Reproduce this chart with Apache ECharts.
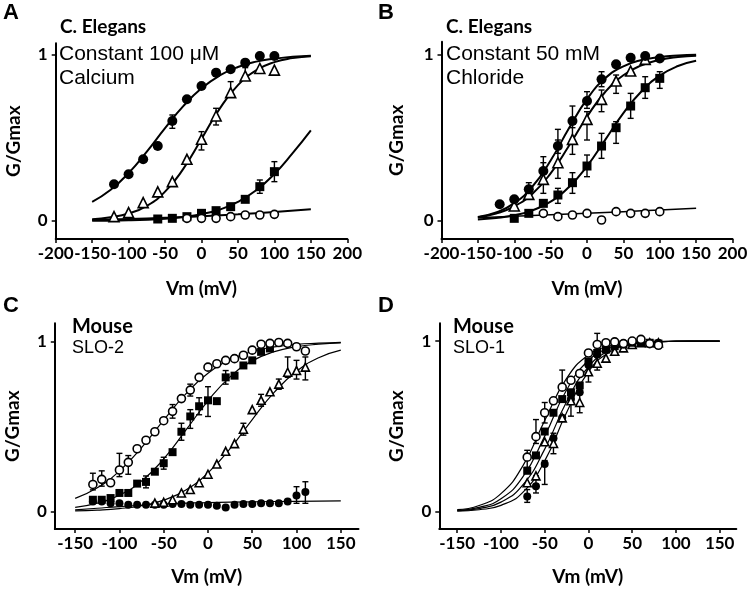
<!DOCTYPE html>
<html>
<head>
<meta charset="utf-8">
<script src="https://cdn.jsdelivr.net/npm/echarts@6/dist/echarts.min.js"></script>
<style>
  html, body { margin: 0; padding: 0; background: #fff; }
  #chart { width: 750px; height: 589px; }
</style>
</head>
<body>
<div id="chart"></div>
<script>
// ---- A: C. elegans, constant 100 uM calcium ----
const aCircle = [[-120,0.22],[-100,0.28],[-80,0.37],[-60,0.45],[-40,0.60],[-20,0.73],[0,0.81],[20,0.89],[40,0.91],[60,0.95],[80,0.99],[100,0.99]];
const aTri = [[-120,0.026],[-100,0.05],[-80,0.11],[-60,0.175],[-40,0.236],[-20,0.37],[0,0.49],[20,0.63],[40,0.77],[60,0.87],[80,0.915],[100,0.905]];
const aSquare = [[-60,0.012],[-40,0.016],[-20,0.026],[0,0.046],[20,0.062],[40,0.086],[60,0.13],[80,0.206],[100,0.296]];
const aOpen = [[-20,0.016],[0,0.016],[20,0.016],[40,0.026],[60,0.036],[80,0.036],[100,0.04]];
const aErr = [[-60,0.43,0.47],[-40,0.556,0.636],[0,0.426,0.536],[20,0.576,0.676],[40,0.746,0.836],[60,0.85,0.92],[80,0.166,0.246],[100,0.236,0.356]];
const aFitCircle = [[-150,0.115],[-125,0.186],[-100,0.287],[-75,0.416],[-50,0.557],[-25,0.689],[0,0.796],[25,0.873],[50,0.924],[75,0.956],[100,0.974],[125,0.985],[150,0.992]];
const aFitTri = [[-150,0.010],[-125,0.022],[-100,0.045],[-75,0.091],[-50,0.176],[-25,0.313],[0,0.492],[25,0.674],[50,0.815],[75,0.904],[100,0.953],[125,0.977],[150,0.989]];
const aFitSquare = [[-150,0.0015],[-100,0.0046],[-50,0.014],[-25,0.024],[0,0.041],[25,0.069],[50,0.115],[75,0.184],[100,0.282],[125,0.407],[150,0.544]];
const aFitOpen = [[-150,0.006],[-100,0.012],[-50,0.019],[0,0.028],[50,0.040],[100,0.054],[150,0.07]];

// ---- B: C. elegans, constant 50 mM chloride ----
const bCircle = [[-120,0.10],[-100,0.13],[-80,0.19],[-60,0.30],[-40,0.45],[-20,0.60],[0,0.72],[20,0.85],[40,0.94],[60,0.98],[80,0.99],[100,0.975]];
const bTri = [[-100,0.09],[-80,0.16],[-60,0.25],[-40,0.35],[-20,0.49],[0,0.61],[20,0.73],[40,0.84],[60,0.90],[80,0.97]];
const bSquare = [[-100,0.016],[-80,0.046],[-60,0.106],[-40,0.156],[-20,0.23],[0,0.33],[20,0.45],[40,0.56],[60,0.69],[80,0.80],[100,0.856]];
const bOpen = [[-60,0.046],[-40,0.026],[-20,0.036],[0,0.046],[20,0.006],[40,0.056],[60,0.046],[80,0.046],[100,0.056]];
const bErr = [[-80,0.15,0.23],[-60,0.25,0.35],[-40,0.406,0.55],[-20,0.56,0.69],[0,0.676,0.776],[20,0.806,0.896],
  [-60,0.166,0.386],[-40,0.256,0.486],[-20,0.40,0.58],[0,0.486,0.656],[20,0.656,0.786],[40,0.766,0.876],
  [-40,0.106,0.196],[-20,0.166,0.29],[0,0.266,0.396],[20,0.376,0.526],[40,0.466,0.596],[60,0.616,0.766],[80,0.736,0.866],[100,0.796,0.896]];
const bFitCircle = [[-150,0.0245],[-125,0.052],[-100,0.107],[-75,0.207],[-50,0.363],[-25,0.555],[0,0.731],[25,0.856],[50,0.928],[75,0.966],[100,0.984],[125,0.993],[150,0.997]];
const bFitTri = [[-150,0.0225],[-125,0.045],[-100,0.088],[-75,0.164],[-50,0.286],[-25,0.450],[0,0.626],[25,0.774],[50,0.875],[75,0.934],[100,0.967],[125,0.984],[150,0.992]];
const bFitSquare = [[-150,0.0094],[-125,0.018],[-100,0.034],[-75,0.064],[-50,0.116],[-25,0.203],[0,0.329],[25,0.487],[50,0.647],[75,0.779],[100,0.872],[125,0.930],[150,0.962]];
const bFitOpen = [[-150,0.02],[-100,0.028],[-50,0.037],[0,0.046],[50,0.056],[100,0.066],[150,0.077]];

// ---- C: mouse SLO-2 ----
const cOpen = [[-130,0.16],[-120,0.19],[-110,0.17],[-100,0.245],[-90,0.29],[-80,0.37],[-70,0.42],[-60,0.47],[-50,0.535],[-40,0.59],[-30,0.665],[-20,0.715],[-10,0.79],[0,0.85],[10,0.87],[20,0.89],[30,0.90],[40,0.92],[50,0.95],[60,0.985],[70,0.99],[80,0.995],[90,0.99],[100,0.97],[110,0.945]];
const cSquare = [[-130,0.07],[-120,0.07],[-110,0.08],[-100,0.11],[-90,0.11],[-80,0.165],[-70,0.175],[-60,0.235],[-50,0.285],[-40,0.35],[-30,0.47],[-20,0.56],[-10,0.62],[0,0.655],[10,0.65],[20,0.79],[30,0.80],[40,0.86],[50,0.89],[60,0.94],[70,0.96]];
const cTri = [[-60,0.05],[-50,0.055],[-40,0.07],[-30,0.11],[-20,0.13],[-10,0.17],[0,0.22],[10,0.28],[20,0.355],[30,0.40],[40,0.485],[50,0.60],[60,0.655],[70,0.705],[80,0.75],[90,0.82],[100,0.83],[110,0.85]];
const cFilled = [[-130,0.06],[-120,0.06],[-110,0.05],[-100,0.05],[-90,0.04],[-80,0.04],[-70,0.04],[-60,0.04],[-50,0.04],[-40,0.045],[-30,0.045],[-20,0.04],[-10,0.04],[0,0.04],[10,0.035],[20,0.025],[30,0.04],[40,0.045],[50,0.045],[60,0.05],[70,0.05],[80,0.05],[90,0.06],[100,0.095],[110,0.115]];
const cErr = [[-130,0.128,0.226],[-120,0.15,0.24],[-100,0.206,0.343],[-90,0.22,0.33],[-40,0.55,0.63],[-20,0.68,0.75],
  [-70,0.14,0.21],[-50,0.25,0.32],[-30,0.42,0.52],[-20,0.49,0.60],[-10,0.57,0.67],[0,0.56,0.735],[20,0.75,0.83],
  [40,0.45,0.52],[60,0.62,0.69],[80,0.72,0.78],[90,0.79,0.91],[100,0.78,0.89],[110,0.775,0.91],
  [100,0.049,0.147],[110,0.049,0.176]];
const cFitOpen = [[-150,0.078],[-125,0.140],[-100,0.239],[-75,0.377],[-50,0.539],[-25,0.693],[0,0.814],[25,0.894],[50,0.942],[75,0.969],[100,0.984],[125,0.991],[150,0.996]];
const cFitSquare = [[-150,0.025],[-125,0.050],[-100,0.097],[-75,0.180],[-50,0.310],[-25,0.479],[0,0.652],[25,0.793],[50,0.887],[75,0.941],[100,0.970],[125,0.985],[150,0.993]];
const cFitTri = [[-150,0.0045],[-125,0.009],[-100,0.018],[-75,0.035],[-50,0.068],[-25,0.128],[0,0.228],[25,0.371],[50,0.542],[75,0.703],[100,0.826],[125,0.905],[150,0.950]];
const cFitFlat = [[-150,0.01],[-125,0.02],[-100,0.03],[-50,0.045],[0,0.053],[50,0.058],[100,0.061],[150,0.063]];

// ---- D: mouse SLO-1 ----
const dOpen = [[-70,0.32],[-60,0.44],[-50,0.58],[-40,0.65],[-30,0.73],[-20,0.77],[-10,0.81],[0,0.93],[10,0.98],[20,0.99],[30,0.995],[40,0.985],[50,1.0],[60,1.01],[70,0.985],[80,0.975]];
const dSquare = [[-70,0.24],[-60,0.33],[-50,0.47],[-40,0.58],[-30,0.66],[-20,0.70],[-10,0.74],[0,0.88],[10,0.93],[20,0.95],[30,0.97],[40,0.98],[50,0.99],[60,0.99],[70,0.99],[80,0.985]];
const dTri = [[-70,0.17],[-60,0.21],[-50,0.41],[-40,0.40],[-30,0.55],[-20,0.65],[-10,0.64],[0,0.82],[10,0.87],[20,0.90],[30,0.94],[40,0.96],[50,0.98],[60,0.99],[70,0.99],[80,0.99]];
const dFilled = [[-70,0.09],[-60,0.15],[-50,0.28],[-40,0.43],[-30,0.55],[-20,0.66],[-10,0.70],[0,0.86],[10,0.92],[20,0.95],[30,0.97],[40,0.98],[50,0.99],[60,0.99],[70,0.99],[80,0.99]];
const dErr = [[-70,0.26,0.36],[-60,0.40,0.54],[-50,0.52,0.64],[-30,0.73,0.83],[10,0.96,1.045],
  [-60,0.11,0.21],[-50,0.16,0.30],[-40,0.34,0.46],[-20,0.56,0.68],[-10,0.58,0.70],[0,0.76,0.88],[10,0.83,0.92],[-70,0.055,0.13]];
const dFitOpen = [[-150,0.012],[-125,0.0365],[-100,0.106],[-75,0.269],[-50,0.534],[-25,0.781],[0,0.918],[25,0.972],[50,0.991],[75,0.997],[100,0.999],[125,1.0],[150,1.0]];
const dFitSquare = [[-150,0.0084],[-125,0.0256],[-100,0.076],[-75,0.204],[-50,0.443],[-25,0.713],[0,0.886],[25,0.960],[50,0.987],[75,0.996],[100,0.999],[125,1.0],[150,1.0]];
const dFitTri = [[-150,0.006],[-125,0.0188],[-100,0.0565],[-75,0.157],[-50,0.367],[-25,0.644],[0,0.849],[25,0.946],[50,0.982],[75,0.994],[100,0.998],[125,0.9995],[150,1.0]];
const dFitFilled = [[-150,0.0036],[-125,0.0118],[-100,0.0377],[-75,0.114],[-50,0.298],[-25,0.582],[0,0.821],[25,0.938],[50,0.980],[75,0.994],[100,0.998],[125,0.9995],[150,1.0]];

const ticksAB = [-200,-150,-100,-50,0,50,100,150,200];
const ticksCD = [-150,-100,-50,0,50,100,150];
const ticksY = [0, 1];

const boldFont = 'Lato';
const plainFont = 'Liberation Sans';

const myChart = echarts.init(document.getElementById('chart'), null, { renderer: 'canvas' });

const grids = [
  { left: 55.7, top: 43.3, width: 291.6, height: 195.7 },
  { left: 441.5, top: 41.7, width: 291, height: 197.3 },
  { left: 54.8, top: 323.3, width: 303.7, height: 205.7 },
  { left: 439.3, top: 323.3, width: 297, height: 205.7 }
];
const xRanges = [[-200, 200], [-200, 200], [-173, 170], [-170.5, 169]];
const yRanges = [[-0.108, 1.066], [-0.108, 1.076], [-0.102, 1.108], [-0.101, 1.104]];
const xTicks = [ticksAB, ticksAB, ticksCD, ticksCD];
const xNameGap = [40, 40, 38, 38];
const yNameGap = [32, 35, 32, 33];

const makeX = (i) => ({
  type: 'value', gridIndex: i, min: xRanges[i][0], max: xRanges[i][1],
  splitLine: { show: false },
  axisLine: { onZero: false, lineStyle: { color: '#000', width: 2 } },
  axisTick: { length: 4, lineStyle: { color: '#000', width: 1.5 }, customValues: xTicks[i] },
  axisLabel: { customValues: xTicks[i], color: '#000', fontFamily: boldFont, fontWeight: 'bold', fontSize: 17, margin: 6 },
  name: 'Vm (mV)', nameLocation: 'middle', nameGap: xNameGap[i],
  nameTextStyle: { color: '#000', fontFamily: boldFont, fontWeight: 'bold', fontSize: 19 }
});
const makeY = (i) => ({
  type: 'value', gridIndex: i, min: yRanges[i][0], max: yRanges[i][1],
  splitLine: { show: false },
  axisLine: { onZero: false, lineStyle: { color: '#000', width: 2 } },
  axisTick: { length: 4, lineStyle: { color: '#000', width: 1.5 }, customValues: ticksY },
  axisLabel: { customValues: ticksY, color: '#000', fontFamily: boldFont, fontWeight: 'bold', fontSize: 17, margin: 8 },
  name: 'G/Gmax', nameLocation: 'middle', nameGap: yNameGap[i],
  nameTextStyle: { color: '#000', fontFamily: boldFont, fontWeight: 'bold', fontSize: 19 }
});

// fitted curve
const fit = (data, i, w) => ({
  type: 'line', xAxisIndex: i, yAxisIndex: i, data: data,
  smooth: true, showSymbol: false, silent: true, z: 2,
  lineStyle: { color: '#000', width: w }
});
// data points; shape: circle / triangle / rect, filled or open
const pts = (data, i, shape, filled, size) => ({
  type: 'scatter', xAxisIndex: i, yAxisIndex: i, data: data,
  symbol: shape, symbolSize: size, z: 4,
  itemStyle: { color: filled ? '#000' : '#fff', opacity: 1, borderColor: '#000', borderWidth: filled ? 0 : 1.6 }
});
// error bars with caps
const errBars = (data, i) => ({
  type: 'custom', xAxisIndex: i, yAxisIndex: i, data: data, z: 3, silent: true,
  renderItem: (params, api) => {
    const lo = api.coord([api.value(0), api.value(1)]);
    const hi = api.coord([api.value(0), api.value(2)]);
    const w = 3;
    const st = { stroke: '#000', lineWidth: 1.4 };
    return {
      type: 'group',
      children: [
        { type: 'line', shape: { x1: lo[0], y1: lo[1], x2: hi[0], y2: hi[1] }, style: st },
        { type: 'line', shape: { x1: lo[0] - w, y1: lo[1], x2: lo[0] + w, y2: lo[1] }, style: st },
        { type: 'line', shape: { x1: hi[0] - w, y1: hi[1], x2: hi[0] + w, y2: hi[1] }, style: st }
      ]
    };
  }
});

const txt = (s, x, y, font, size, weight) => ({
  type: 'text', x: x, y: y, silent: true,
  style: { text: s, fill: '#000', fontFamily: font, fontSize: size, fontWeight: weight, verticalAlign: 'middle' }
});

myChart.setOption({
  animation: false,
  backgroundColor: '#fff',
  grid: grids.map((g) => Object.assign({ containLabel: false, outerBoundsMode: 'none' }, g)),
  xAxis: [0, 1, 2, 3].map(makeX),
  yAxis: [0, 1, 2, 3].map(makeY),
  graphic: [
    txt('A', 3, 13, plainFont, 22, 'bold'),
    txt('B', 378, 13, plainFont, 22, 'bold'),
    txt('C', 3, 306, plainFont, 22, 'bold'),
    txt('D', 378, 306, plainFont, 22, 'bold'),
    txt('C. Elegans', 60, 27, boldFont, 19, 'bold'),
    txt('Constant 100 μM', 59, 54, plainFont, 21, 'normal'),
    txt('Calcium', 59, 78, plainFont, 21, 'normal'),
    txt('C. Elegans', 446, 27, boldFont, 19, 'bold'),
    txt('Constant 50 mM', 446, 54, plainFont, 21, 'normal'),
    txt('Chloride', 446, 78, plainFont, 21, 'normal'),
    txt('Mouse', 72, 327, boldFont, 20, 'bold'),
    txt('SLO-2', 72, 348, plainFont, 18, 'normal'),
    txt('Mouse', 453, 327, boldFont, 20, 'bold'),
    txt('SLO-1', 453, 348, plainFont, 18, 'normal')
  ],
  series: [
    fit(aFitCircle, 0, 2), fit(aFitTri, 0, 2), fit(aFitSquare, 0, 2), fit(aFitOpen, 0, 2),
    errBars(aErr, 0),
    pts(aSquare, 0, 'rect', true, 9), pts(aOpen, 0, 'circle', false, 8),
    pts(aTri, 0, 'triangle', false, 10), pts(aCircle, 0, 'circle', true, 10),

    fit(bFitCircle, 1, 2), fit(bFitTri, 1, 2), fit(bFitSquare, 1, 2), fit(bFitOpen, 1, 1.5),
    errBars(bErr, 1),
    pts(bOpen, 1, 'circle', false, 8), pts(bSquare, 1, 'rect', true, 9),
    pts(bTri, 1, 'triangle', false, 10), pts(bCircle, 1, 'circle', true, 10),

    fit(cFitOpen, 2, 1.2), fit(cFitSquare, 2, 1.2), fit(cFitTri, 2, 1.2), fit(cFitFlat, 2, 1.2),
    errBars(cErr, 2),
    pts(cFilled, 2, 'circle', true, 8), pts(cTri, 2, 'triangle', false, 8),
    pts(cSquare, 2, 'rect', true, 8), pts(cOpen, 2, 'circle', false, 8),

    fit(dFitOpen, 3, 1.2), fit(dFitSquare, 3, 1.2), fit(dFitTri, 3, 1.2), fit(dFitFilled, 3, 1.2),
    errBars(dErr, 3),
    pts(dFilled, 3, 'circle', true, 8), pts(dTri, 3, 'triangle', false, 8),
    pts(dSquare, 3, 'rect', true, 8), pts(dOpen, 3, 'circle', false, 8)
  ]
});
</script>
</body>
</html>
